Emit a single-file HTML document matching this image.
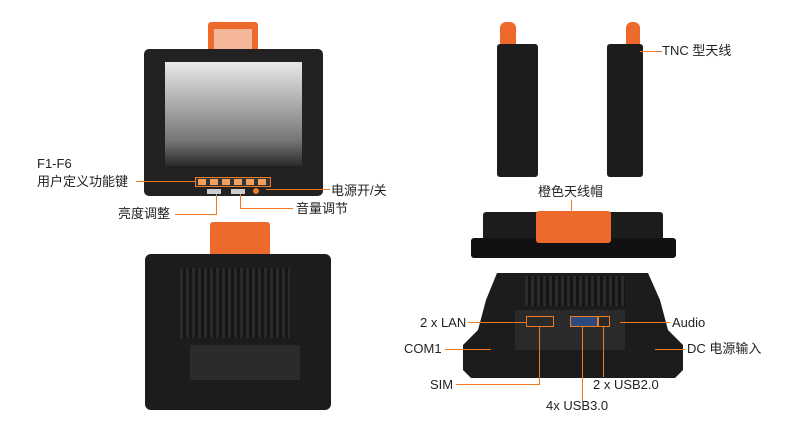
<!DOCTYPE html>
<html><head><meta charset="utf-8"><style>
body{margin:0;width:800px;height:434px;background:#fff;position:relative;overflow:hidden;font-family:"Liberation Sans","Noto Sans CJK SC",sans-serif;color:#222}
div{position:absolute;box-sizing:border-box}
.t{font-size:13px;white-space:nowrap;line-height:16px}
.l{background:#f07a22}
.o{background:#ee6a2c}
.b{background:#1c1c1c}
</style></head><body>
<!-- front device -->
<div class="o" style="left:208px;top:22px;width:50px;height:30px;border-radius:3px 3px 0 0"></div>
<div style="left:214px;top:29px;width:38px;height:22px;background:#f4b79a"></div>
<div style="left:144px;top:49px;width:179px;height:147px;background:#222;border-radius:5px"></div>
<div style="left:165px;top:62px;width:137px;height:104px;background:linear-gradient(#e8e8e8,#777 75%,#2a2a2a)"></div>
<div style="left:195px;top:177px;width:76px;height:10px;border:1px solid #f07a22;background:#333"></div>
<div style="left:198px;top:179px;width:70px;height:6px;background:repeating-linear-gradient(90deg,#f0a060 0 8px,#333 8px 12px)"></div>
<div style="left:207px;top:189px;width:14px;height:5px;background:#ccc"></div>
<div style="left:231px;top:189px;width:14px;height:5px;background:#ccc"></div>
<div style="left:253px;top:188px;width:6px;height:6px;border-radius:50%;background:#f07a22"></div>
<!-- back device -->
<div class="o" style="left:210px;top:222px;width:60px;height:40px;border-radius:3px"></div>
<div class="b" style="left:145px;top:254px;width:186px;height:156px;border-radius:6px"></div>
<div style="left:180px;top:268px;width:110px;height:70px;background:repeating-linear-gradient(90deg,#2a2a2a 0 3px,#161616 3px 6px)"></div>
<div style="left:190px;top:345px;width:110px;height:35px;background:#2b2b2b"></div>
<!-- side views -->
<div class="o" style="left:500px;top:22px;width:16px;height:33px;border-radius:6px 6px 0 0"></div>
<div class="b" style="left:497px;top:44px;width:41px;height:133px;border-radius:3px"></div>
<div class="o" style="left:626px;top:22px;width:14px;height:31px;border-radius:6px 6px 0 0"></div>
<div class="b" style="left:607px;top:44px;width:36px;height:133px;border-radius:3px"></div>
<!-- bottom view -->
<div class="b" style="left:483px;top:212px;width:180px;height:30px;border-radius:3px"></div>
<div style="left:471px;top:238px;width:205px;height:20px;background:#111;border-radius:3px"></div>
<div class="o" style="left:536px;top:211px;width:75px;height:32px;border-radius:3px"></div>
<!-- bottom rear -->
<svg style="position:absolute;left:0;top:0" width="800" height="434"><polygon points="497,273 648,273 660,300 668,330 683,345 683,370 675,378 471,378 463,370 463,345 478,330 486,300" fill="#1c1c1c"/></svg>
<div style="left:525px;top:276px;width:100px;height:30px;background:repeating-linear-gradient(90deg,#2b2b2b 0 3px,#151515 3px 6px)"></div>
<div style="left:515px;top:310px;width:110px;height:40px;background:#2a2a2a"></div>
<div style="left:526px;top:316px;width:28px;height:11px;border:1px solid #f07a22"></div>
<div style="left:570px;top:316px;width:28px;height:11px;border:1px solid #f07a22;background:#2a4a80"></div>
<div style="left:598px;top:316px;width:12px;height:11px;border:1px solid #f07a22"></div>
<!-- lines -->
<div class="l" style="left:136px;top:181px;width:59px;height:1px"></div>
<div class="l" style="left:266px;top:189px;width:64px;height:1px"></div>
<div class="l" style="left:175px;top:214px;width:42px;height:1px"></div>
<div class="l" style="left:216px;top:194px;width:1px;height:21px"></div>
<div class="l" style="left:240px;top:194px;width:1px;height:15px"></div>
<div class="l" style="left:240px;top:208px;width:53px;height:1px"></div>
<div class="l" style="left:640px;top:51px;width:22px;height:1px"></div>
<div class="l" style="left:571px;top:200px;width:1px;height:18px"></div>
<div class="l" style="left:468px;top:322px;width:58px;height:1px"></div>
<div class="l" style="left:445px;top:349px;width:46px;height:1px"></div>
<div class="l" style="left:456px;top:384px;width:84px;height:1px"></div>
<div class="l" style="left:539px;top:327px;width:1px;height:58px"></div>
<div class="l" style="left:582px;top:327px;width:1px;height:74px"></div>
<div class="l" style="left:603px;top:327px;width:1px;height:50px"></div>
<div class="l" style="left:620px;top:322px;width:50px;height:1px"></div>
<div class="l" style="left:655px;top:349px;width:30px;height:1px"></div>
<!-- labels -->
<div class="t" style="left:37px;top:156px">F1-F6</div>
<div class="t" style="left:37px;top:174px">用户定义功能键</div>
<div class="t" style="left:331px;top:183px">电源开/关</div>
<div class="t" style="left:118px;top:206px">亮度调整</div>
<div class="t" style="left:296px;top:201px">音量调节</div>
<div class="t" style="left:662px;top:43px">TNC 型天线</div>
<div class="t" style="left:538px;top:184px">橙色天线帽</div>
<div class="t" style="left:420px;top:315px">2 x LAN</div>
<div class="t" style="left:404px;top:341px">COM1</div>
<div class="t" style="left:430px;top:377px">SIM</div>
<div class="t" style="left:546px;top:398px">4x USB3.0</div>
<div class="t" style="left:593px;top:377px">2 x USB2.0</div>
<div class="t" style="left:672px;top:315px">Audio</div>
<div class="t" style="left:687px;top:341px">DC 电源输入</div>
</body></html>
